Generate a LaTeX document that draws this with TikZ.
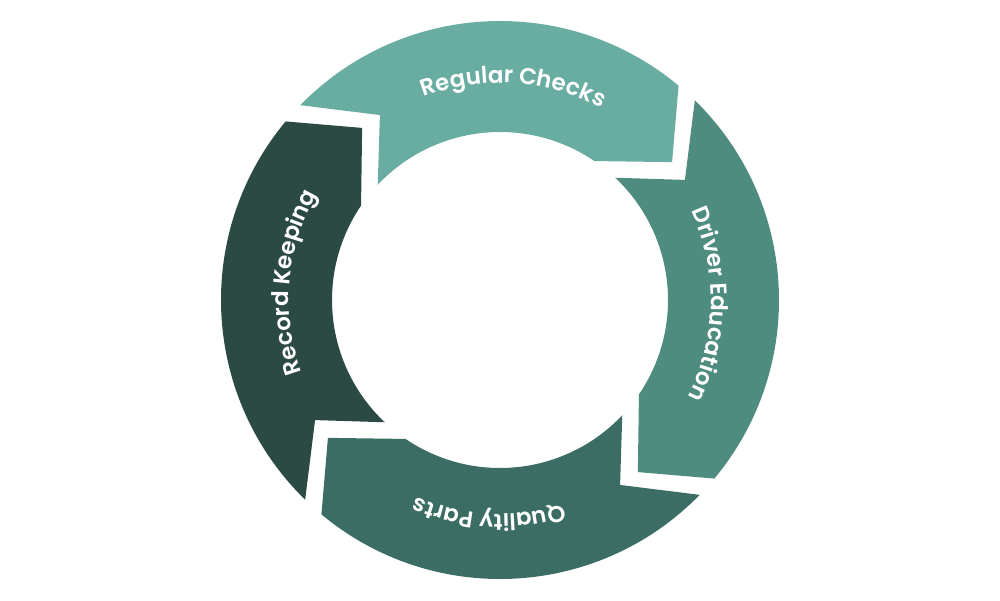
\documentclass[tikz,border=0pt]{standalone}
\usepackage{fontspec}
\setmainfont{Poppins}
\newfontfamily\segfont{Poppins SemiBold}
\usetikzlibrary{decorations.text}
\definecolor{checks}{HTML}{69ADA2}
\definecolor{driver}{HTML}{4F8C80}
\definecolor{parts}{HTML}{3B6D65}
\definecolor{record}{HTML}{2B4A44}
\begin{document}
\begin{tikzpicture}[seg/.style={fill=#1},
  lbl/.style={decorate,decoration={text along path,text align=center,text color=white,
    text={|\segfont\fontsize{23pt}{27pt}\selectfont|#1}}}]
\useasboundingbox (-500pt,-300pt) rectangle (500pt,300pt);
\foreach \k/\c in {0/checks,1/driver,2/parts,3/record}
  \fill[seg=\c,rotate=-90*\k](135.7:279pt) arc (135.7:50.2:279pt)--(38.7:220.5pt)--(55.8:168pt)
    arc (55.8:136.7:168pt)--(123:220.5pt)--cycle;
\path[lbl=Regular Checks](136.4:217pt) arc (136.4:36.4:217pt);
\path[lbl=Driver Education](48.8:211pt) arc (48.8:-51.2:211pt);
\path[lbl=Quality Parts](-42.9:214pt) arc (-42.9:-142.9:214pt);
\path[lbl=Record Keeping](225:211pt) arc (225:125:211pt);
\end{tikzpicture}
\end{document}
